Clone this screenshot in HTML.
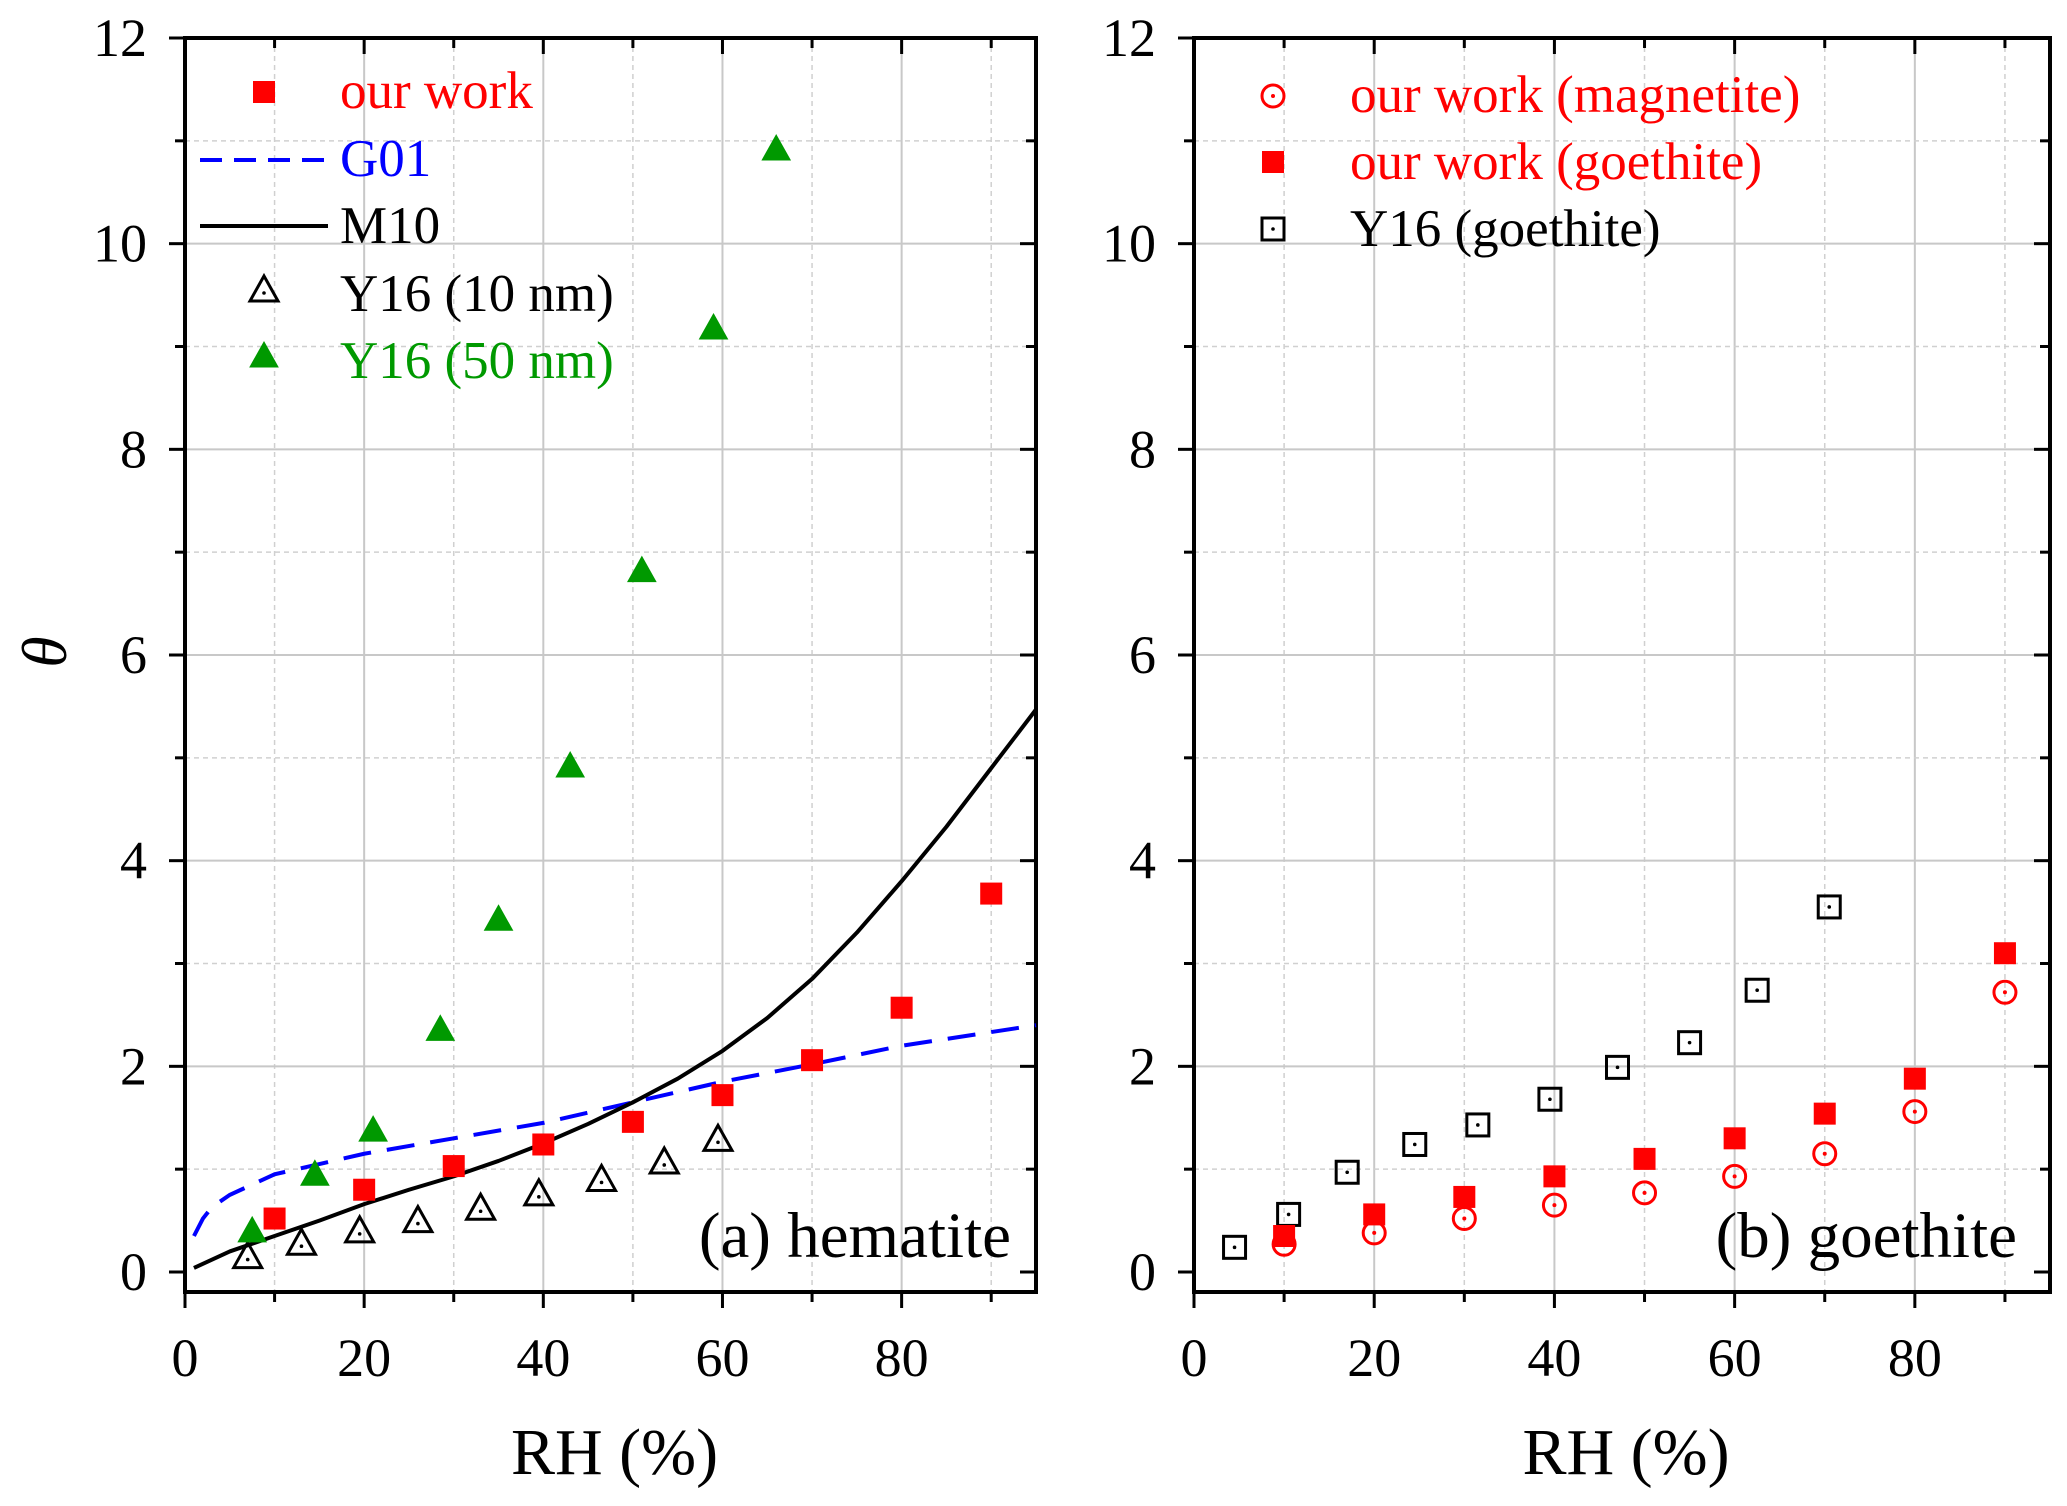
<!DOCTYPE html>
<html><head><meta charset="utf-8"><style>
html,body{margin:0;padding:0;background:#fff}
svg{display:block;font-family:"Liberation Serif",serif}
svg text{font-family:"Liberation Serif",serif}
</style></head><body>
<svg id="chart" width="2067" height="1506" viewBox="0 0 2067 1506" xmlns="http://www.w3.org/2000/svg">
<rect width="2067" height="1506" fill="#fff"/>
<g id="pa"></g>
<g id="pb"></g>
<text x="0" y="0" transform="translate(66,652) rotate(-90)" font-size="64" font-style="italic" text-anchor="middle">θ</text>
</svg>
<script>
// Panel a data
const aOurX=[10,20,30,40,50,60,70,80,90];
const aOurY=[0.52,0.8,1.03,1.24,1.46,1.72,2.06,2.57,3.68];
const aY10X=[7,13,19.5,26,33,39.5,46.5,53.5,59.5];
const aY10Y=[0.15,0.28,0.4,0.5,0.62,0.76,0.9,1.07,1.29];
const aY50X=[7.5,14.5,21,28.5,35,43,51,59,66];
const aY50Y=[0.4,0.95,1.38,2.36,3.43,4.92,6.82,9.18,10.92];
const g01X=[1,2,3,5,10,20,30,40,50,60,70,80,95];
const g01Y=[0.35,0.52,0.63,0.75,0.95,1.15,1.3,1.45,1.65,1.85,2.02,2.2,2.4];
const m10X=[1,5,10,15,20,25,30,35,40,45,50,55,60,65,70,75,80,85,90,95];
const m10Y=[0.04,0.2,0.35,0.5,0.66,0.8,0.93,1.08,1.25,1.44,1.65,1.88,2.15,2.47,2.85,3.3,3.8,4.33,4.9,5.47];
// Panel b data
const bMagX=[10,20,30,40,50,60,70,80,90];
const bMagY=[0.27,0.38,0.52,0.65,0.77,0.93,1.15,1.56,2.72];
const bGoeX=[10,20,30,40,50,60,70,80,90];
const bGoeY=[0.35,0.56,0.73,0.93,1.1,1.3,1.54,1.88,3.1];
const bY16X=[4.5,10.5,17,24.5,31.5,39.5,47,55,62.5,70.5];
const bY16Y=[0.24,0.56,0.97,1.24,1.43,1.68,1.99,2.23,2.74,3.55];
const xTicks=[0,20,40,60,80];
const yTicks=[0,2,4,6,8,10,12];

const NS="http://www.w3.org/2000/svg";
function mk(p,t,a){const e=document.createElementNS(NS,t);for(const k in a)e.setAttribute(k,a[k]);p.appendChild(e);return e;}

function panel(g,x0px,x95px){
  const top=38,bot=1292,y0=1272,y12=38;
  const sx=v=>x0px+(x95px-x0px)*v/95;
  const sy=v=>y0+(y12-y0)*v/12;
  for(let v=10;v<=90;v+=10){const l=mk(g,'line',{x1:sx(v),x2:sx(v),y1:top,y2:bot,stroke:v%20?'#d0d0d0':'#c8c8c8','stroke-width':v%20?1.5:2,'stroke-dasharray':v%20?'5,4':'none'});
    }
  for(let v=1;v<=11;v++){const l=mk(g,'line',{x1:x0px,x2:x95px,y1:sy(v),y2:sy(v),stroke:v%2?'#d0d0d0':'#c8c8c8','stroke-width':v%2?1.5:2,'stroke-dasharray':v%2?'5,4':'none'});
    }
  const fr=mk(g,'rect',{x:x0px,y:top,width:x95px-x0px,height:bot-top,fill:'none',stroke:'#000','stroke-width':4});
  
  for(let v=0;v<=90;v+=10){const L=v%20?10:16;
    mk(g,'line',{x1:sx(v),x2:sx(v),y1:bot,y2:bot+L,stroke:'#000','stroke-width':3});
    mk(g,'line',{x1:sx(v),x2:sx(v),y1:top,y2:top+L,stroke:'#000','stroke-width':3});}
  for(let v=0;v<=12;v++){const L=v%2?10:16;
    mk(g,'line',{x1:x0px-L,x2:x0px,y1:sy(v),y2:sy(v),stroke:'#000','stroke-width':3});
    mk(g,'line',{x1:x95px-L,x2:x95px,y1:sy(v),y2:sy(v),stroke:'#000','stroke-width':3});}
  xTicks.forEach(v=>{const t=mk(g,'text',{x:sx(v),y:1376,'font-size':54,'text-anchor':'middle'});t.textContent=v;
    });
  yTicks.forEach(v=>{const t=mk(g,'text',{x:x0px-38,y:sy(v)+18,'font-size':54,'text-anchor':'end'});t.textContent=v;
    });
  const xt=mk(g,'text',{x:(x0px+x95px)/2+4,y:1474,'font-size':66,'text-anchor':'middle'});xt.textContent='RH (%)';
  
  return {sx,sy};
}
function sq(g,x,y,fill,name){const s=22;const r=mk(g,'rect',{x:x-s/2,y:y-s/2,width:s,height:s,fill:fill?'#f00':'none',stroke:fill?'none':'#000','stroke-width':3});
  
  if(!fill)mk(g,'circle',{cx:x,cy:y,r:1.8,fill:'#000'});}
function tri(g,x,y,fill,name){const p=mk(g,'path',{d:`M${x},${y-14}L${x+14},${y+11}L${x-14},${y+11}Z`,fill:fill?'#090':'none',stroke:fill?'#090':'#000','stroke-width':fill?1:3});
  
  if(!fill)mk(g,'circle',{cx:x,cy:y+3,r:1.8,fill:'#000'});}
function circ(g,x,y,name){const c=mk(g,'circle',{cx:x,cy:y,r:11,fill:'none',stroke:'#f00','stroke-width':3});
  
  mk(g,'circle',{cx:x,cy:y,r:2,fill:'#f00'});}
function txt(g,x,y,s,col,size,anchor,name){const t=mk(g,'text',{x,y,'font-size':size,fill:col,'text-anchor':anchor||'start'});t.textContent=s;
  }

const ga=document.getElementById('pa');
const A=panel(ga,185,1036);
const pg=mk(ga,'path',{d:g01X.map((x,i)=>(i?'L':'M')+A.sx(x)+','+A.sy(g01Y[i])).join(''),fill:'none',stroke:'#00f','stroke-width':4,'stroke-dasharray':'28,16'});

const pm=mk(ga,'path',{d:m10X.map((x,i)=>(i?'L':'M')+A.sx(x)+','+A.sy(m10Y[i])).join(''),fill:'none',stroke:'#000','stroke-width':4,'stroke-linejoin':'round'});

aY10X.forEach((x,i)=>tri(ga,A.sx(x),A.sy(aY10Y[i]),false,'y16-10nm-point'));
aY50X.forEach((x,i)=>tri(ga,A.sx(x),A.sy(aY50Y[i]),true,'y16-50nm-point'));
aOurX.forEach((x,i)=>sq(ga,A.sx(x),A.sy(aOurY[i]),true,'our-work-point'));
sq(ga,264,92,true,'legend-our-work-marker');txt(ga,340,108,'our work','#f00',53,'start','legend-our-work');
mk(ga,'line',{x1:200,x2:328,y1:160,y2:160,stroke:'#00f','stroke-width':4,'stroke-dasharray':'22,12'});
txt(ga,340,176,'G01','#00f',53,'start','legend-g01');
mk(ga,'line',{x1:200,x2:328,y1:226,y2:226,stroke:'#000','stroke-width':4});
txt(ga,340,243,'M10','#000',53,'start','legend-m10');
tri(ga,264,290,false,'legend-y16-10nm-marker');txt(ga,340,311,'Y16 (10 nm)','#000',53,'start','legend-y16-10nm');
tri(ga,264,356,true,'legend-y16-50nm-marker');txt(ga,340,378,'Y16 (50 nm)','#090',53,'start','legend-y16-50nm');
txt(ga,1011,1257,'(a) hematite','#000',65,'end','panel-a-label');

const gb=document.getElementById('pb');
const B=panel(gb,1194,2050);
bY16X.forEach((x,i)=>sq(gb,B.sx(x),B.sy(bY16Y[i]),false,'y16-goethite-point'));
bGoeX.forEach((x,i)=>sq(gb,B.sx(x),B.sy(bGoeY[i]),true,'our-work-goethite-point'));
bMagX.forEach((x,i)=>circ(gb,B.sx(x),B.sy(bMagY[i]),'our-work-magnetite-point'));
circ(gb,1273,96,'legend-magnetite-marker');txt(gb,1350,112,'our work (magnetite)','#f00',53,'start','legend-our-work-magnetite');
sq(gb,1273,162,true,'legend-goethite-marker');txt(gb,1350,179,'our work (goethite)','#f00',53,'start','legend-our-work-goethite');
sq(gb,1273,229,false,'legend-y16-goethite-marker');txt(gb,1350,246,'Y16 (goethite)','#000',53,'start','legend-y16-goethite');
txt(gb,2017,1257,'(b) goethite','#000',65,'end','panel-b-label');
</script>
</body></html>
